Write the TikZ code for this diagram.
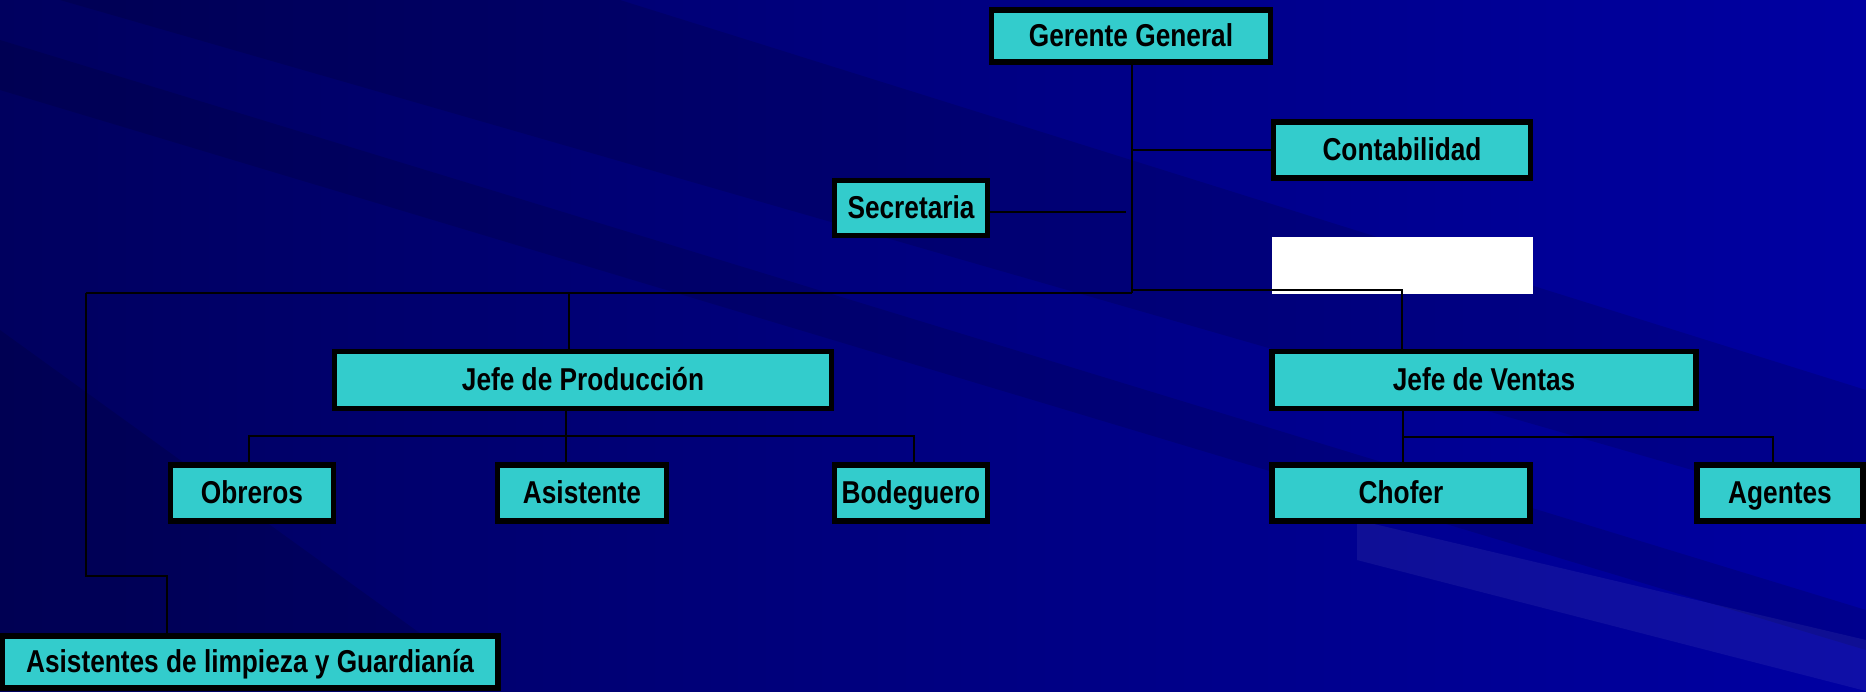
\documentclass[tikz,border=0pt]{standalone}
\usepackage{fontspec}
\newfontfamily\cajafont[FakeStretch=0.83]{Liberation Sans}
\usepackage{tikz}
\usetikzlibrary{positioning}
\definecolor{cajacyan}{RGB}{51,204,204}
\definecolor{fondoosc}{RGB}{0,0,95}
\definecolor{fondoclaro}{RGB}{0,0,162}
\tikzstyle{cargo} = [rectangle, draw=black, line width=0.11cm, fill=cajacyan, text centered, inner sep=0pt, minimum height=1.12cm, text height=15pt, text depth=2.7pt, font=\cajafont\bfseries\fontsize{18}{20}\selectfont]
\tikzstyle{linea} = [black, line width=0.045cm]
\tikzstyle{lineafina} = [black, line width=0.03cm]
\tikzstyle{sombra} = [black, opacity=0.12]
\tikzstyle{brillo} = [white, opacity=0.06]

\begin{document}
\begin{tikzpicture}[x=0.02cm, y=-0.02cm]
\fill[left color=fondoosc, right color=fondoclaro] (0,0) rectangle (1866,691);
\useasboundingbox (0,0) rectangle (1866,691);
\fill[sombra] (60,0) -- (620,0) -- (1866,390) -- (1866,520) -- cycle;
\fill[sombra] (0,40) -- (0,90) -- (1866,650) -- (1866,610) -- cycle;
\fill[sombra] (0,330) -- (0,691) -- (500,691) -- cycle;
\fill[brillo] (1357,520) -- (1866,640) -- (1866,691) -- (1357,560) -- cycle;

\node (gg) [cargo, minimum width=5.58cm, minimum height=1.04cm] at (1131,36) {Gerente General};
\node (cont) [cargo, minimum width=5.14cm] at (1402,150) {Contabilidad};
\node (secr) [cargo, minimum width=3.06cm, minimum height=1.10cm] at (911,208) {Secretaria};
\fill[white] (1272,237) rectangle (1533,294);
\node (jp) [cargo, minimum width=9.94cm, minimum height=1.14cm] at (583,380) {Jefe de Producción};
\node (jv) [cargo, minimum width=8.48cm, minimum height=1.14cm] at (1484,380) {Jefe de Ventas};
\node (obr) [cargo, minimum width=3.26cm] at (252,493) {Obreros};
\node (asis) [cargo, minimum width=3.38cm] at (582,493) {Asistente};
\node (bod) [cargo, minimum width=3.06cm] at (911,493) {Bodeguero};
\node (chof) [cargo, minimum width=5.16cm] at (1401,493) {Chofer};
\node (agen) [cargo, minimum width=3.32cm] at (1780,493) {Agentes};
\node (limp) [cargo, minimum width=9.92cm, minimum height=1.04cm] at (250,662) {Asistentes de limpieza y Guardianía};

\coordinate (eje) at (1132,293);
\coordinate (izq) at (86,293);
\coordinate (izqbaja) at (86,576);
\coordinate (der) at (1402,290);
\coordinate (bajajp) at (566,436);
\coordinate (bajajv) at (1403,437);
\coordinate (secfin) at (1126,212);

\draw [linea] (gg.south -| eje) -- (eje);
\draw [linea] (eje |- cont.west) -- (cont.west);
\draw [linea] (secr.east |- secfin) -- (secfin);
\draw [linea] (izq) -- (eje);
\draw [lineafina] (eje |- der) -- (der) -- (jv.north -| der);
\draw [linea] (jp.north -| 569,0) -- (569,293);
\draw [linea] (izq) -- (izqbaja) -- (izqbaja -| 167,0) -- (limp.north -| 167,0);
\draw [linea] (jp.south -| bajajp) -- (asis.north -| bajajp);
\draw [linea] (obr.north -| 249,0) -- (bajajp -| 249,0) -- (bajajp -| 914,0) -- (bod.north -| 914,0);
\draw [linea] (jv.south -| bajajv) -- (chof.north -| bajajv);
\draw [linea] (bajajv) -- (bajajv -| 1773,0) -- (agen.north -| 1773,0);
\end{tikzpicture}
\end{document}
